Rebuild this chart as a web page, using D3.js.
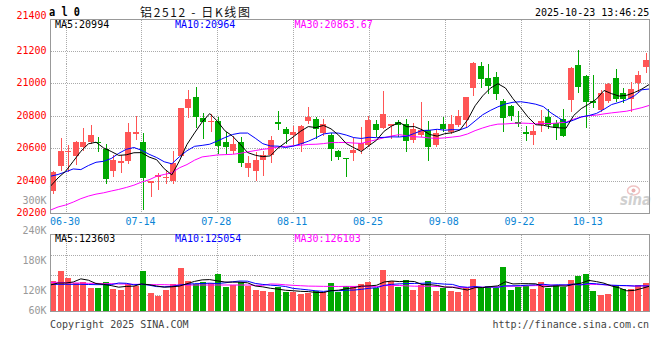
<!DOCTYPE html>
<html><head><meta charset="utf-8">
<script src="https://cdn.jsdelivr.net/npm/d3@7/dist/d3.min.js"></script>
<style>body{margin:0;background:#fff}svg{display:block}</style>
</head><body>
<svg id="c" width="660" height="360"></svg>
<script>
// ---------- DATA ----------
const dates = ["06-26","06-27","06-30","07-01","07-02","07-03","07-04","07-07","07-08","07-09","07-10","07-11","07-14","07-15","07-16","07-17","07-18","07-21","07-22","07-23","07-24","07-25","07-28","07-29","07-30","07-31","08-01","08-04","08-05","08-06","08-07","08-08","08-11","08-12","08-13","08-14","08-15","08-18","08-19","08-20","08-21","08-22","08-25","08-26","08-27","08-28","08-29","09-01","09-02","09-03","09-04","09-05","09-08","09-09","09-10","09-11","09-12","09-15","09-16","09-17","09-18","09-19","09-22","09-23","09-24","09-25","09-26","09-29","09-30","10-09","10-10","10-13","10-14","10-15","10-16","10-17","10-20","10-21","10-22","10-23"];
const open  = [20337,20490,20576,20551,20606,20637,20641,20598,20459,20508,20520,20690,20641,20384,20424,20420,20398,20555,20851,20916,20784,20763,20769,20641,20582,20641,20477,20459,20531,20557,20763,20720,20684,20629,20771,20782,20694,20680,20584,20543,20569,20588,20620,20751,20727,20735,20763,20751,20651,20680,20714,20618,20751,20698,20745,20776,20973,21106,21033,21039,20892,20861,20759,20702,20684,20743,20794,20755,20780,20898,21112,21045,20890,20833,20894,21033,20941,20902,21000,21102];
const high  = [20459,20665,20620,20645,20724,20745,20669,20627,20561,20561,20755,20798,20694,20398,20445,20459,20582,20851,20959,20980,20820,20812,20792,20702,20673,20671,20551,20580,20582,20678,20831,20731,20739,20745,20855,20792,20782,20694,20592,20543,20661,20731,20800,20776,20955,20751,20776,20782,20755,20886,20769,20718,20792,20804,20833,20916,21131,21131,21118,21067,20902,20869,20831,20739,20743,20837,20841,20776,20843,21102,21208,21053,21053,20959,21004,21090,20971,21008,21078,21188];
const low   = [20322,20469,20459,20506,20592,20633,20582,20384,20428,20453,20512,20659,20224,20306,20347,20388,20384,20551,20792,20731,20661,20704,20571,20571,20571,20494,20428,20408,20433,20514,20720,20633,20627,20582,20755,20663,20684,20527,20537,20428,20527,20571,20616,20678,20722,20663,20673,20582,20637,20673,20527,20612,20704,20694,20739,20739,20929,20980,20939,20902,20704,20776,20735,20653,20624,20704,20724,20659,20678,20827,20945,20729,20857,20827,20888,20894,20888,20827,20949,21069];
const close = [20453,20586,20586,20641,20641,20684,20635,20412,20531,20520,20702,20698,20416,20396,20437,20424,20510,20845,20902,20792,20759,20771,20612,20606,20629,20510,20512,20531,20561,20653,20747,20686,20702,20739,20794,20718,20751,20596,20547,20535,20590,20633,20776,20714,20812,20751,20743,20643,20720,20714,20606,20692,20718,20751,20796,20916,21127,21024,20984,20937,20784,20796,20751,20686,20708,20769,20743,20724,20678,21096,20980,20882,20878,20943,20998,20906,20906,20963,21051,21143];
const volume = [138000,158000,144700,134000,136700,124700,124700,136000,122000,120700,132700,127300,158000,114000,108000,120700,131300,164700,138000,131300,136000,134000,152000,126700,130000,135300,128000,120000,118000,116000,126700,116700,115300,112000,113300,118000,116000,134000,116700,128000,128000,132000,136000,123300,160700,138000,126000,140000,120000,130000,138000,118000,123300,118000,116000,124700,142000,123300,128000,123300,166000,120000,126000,128000,122000,136000,124700,130000,126000,140000,148000,152000,118000,110000,112000,130000,122000,122000,130000,134000];
// moving-average values before a full window is available
const ma5Head  = [20367,20418,20459,20520];
const ma10Head = [20428,20439,20455,20473,20469,20494,20514,20520,20537];
const ma30Head = [20220,20239,20251,20269,20290,20306,20318,20326,20337,20347,20359,20373,20392,20406,20428,20439,20449,20480,20500,20527,20547,20553,20559,20561,20563,20569,20578,20586,20594];
const vma5Head  = [130000,134000,134000,136000];
const vma10Head = [131300,131300,131300,131300,131300,131000,130700,130700,130700];
const vma30Head = [135300,135300,134700,134000,134000,133300,133300,132700,132700,132000,132000,131300,131300,130700,130700,130700,130000,130000,130000,130000,130000,130000,130000,130000,130000,130000,130000,129300,129300];
const dateTickLabels = ["06-30","07-14","07-28","08-11","08-25","09-08","09-22","10-13"];
const priceTicks = [21400,21200,21000,20800,20600,20400,20200];
const volTicks = [300000,240000,180000,120000,60000];
const volTickLabels = ["300K","240K","180K","120K","60K"];
const priceLegend = ["MA5:20994","MA10:20964","MA30:20863.67"];
const volLegend = ["MA5:123603","MA10:125054","MA30:126103"];
const titleText = "铝2512 - 日K线图";
const stampText = "2025-10-23 13:46:25";

// ---------- HELPERS ----------
function movingAvg(vals, n, head){
  return vals.map((v,i)=> i < n-1 ? head[i] : d3.mean(vals.slice(i-n+1, i+1)));
}
const RED = "#ff5555", GREEN = "#00a800";
const MONO = "'DejaVu Sans Mono', monospace";

const svg = d3.select("#c");
svg.append("rect").attr("width",660).attr("height",360).attr("fill","#fff");

const N = dates.length;
const xC = d3.scaleLinear().domain([0, N-1]).range([53, 645.7]);   // candles / bars
const xL = d3.scaleLinear().domain([0, N-1]).range([50.5, 649.5]); // lines / grid
const yP = d3.scaleLinear().domain([20200, 21400]).range([213.3, 18.3]);
const yV = d3.scaleLinear().domain([60000, 300000]).range([320, 200]);

const P = {l:50.5, r:649.5, t:19.5, b:213.5};
const V = {l:50.5, r:649.5, t:234.5, b:311.5};

const gridC = "#aaaaaa";
const tickIdx = dateTickLabels.map(d => dates.indexOf(d));

// grids
const g = svg.append("g").attr("shape-rendering","crispEdges");
priceTicks.filter(v => v > 20200 && v < 21400).forEach(v=>{
  const y = Math.round(yP(v)) + 0.5;
  g.append("line").attr("x1",P.l).attr("x2",P.r).attr("y1",y).attr("y2",y)
    .attr("stroke",gridC).attr("stroke-dasharray","1,1");
});
[255.5, 275.5, 295.5].forEach(y=>{
  g.append("line").attr("x1",V.l).attr("x2",V.r).attr("y1",y).attr("y2",y)
    .attr("stroke",gridC).attr("stroke-dasharray","1,1");
});
tickIdx.forEach(i=>{
  const x = Math.round(xL(i)) + 0.5;
  g.append("line").attr("x1",x).attr("x2",x).attr("y1",P.t).attr("y2",P.b)
    .attr("stroke",gridC).attr("stroke-dasharray","1,1");
  g.append("line").attr("x1",x).attr("x2",x).attr("y1",V.t).attr("y2",V.b)
    .attr("stroke",gridC).attr("stroke-dasharray","1,1");
});

// watermark
const wm = svg.append("g");
wm.append("ellipse").attr("cx",633.5).attr("cy",190.5).attr("rx",6).attr("ry",4.5)
  .attr("fill","none").attr("stroke","#f0c4c4").attr("stroke-width",1.5);
wm.append("circle").attr("cx",633.5).attr("cy",190.5).attr("r",2).attr("fill","#eab0b0");
wm.append("text").attr("x",620).attr("y",205).attr("font-family","'DejaVu Sans', sans-serif")
  .attr("font-size",15).attr("font-style","italic").attr("font-weight","bold")
  .attr("fill","#d0d0d0").attr("textLength",31).attr("lengthAdjust","spacingAndGlyphs").text("sina");

// candles
const cg = svg.append("g").attr("shape-rendering","crispEdges");
d3.range(N).forEach(i=>{
  const up = close[i] >= open[i];
  const col = up ? RED : GREEN;
  const xc = Math.round(xC(i));
  cg.append("line").attr("x1",xc+0.5).attr("x2",xc+0.5)
    .attr("y1",Math.round(yP(high[i]))).attr("y2",Math.round(yP(low[i]))+1)
    .attr("stroke",col);
  const t = Math.round(yP(Math.max(open[i],close[i])));
  const b = Math.round(yP(Math.min(open[i],close[i])));
  cg.append("rect").attr("x",xc-3).attr("width",6).attr("y",t).attr("height",Math.max(1,b-t))
    .attr("fill",col);
  const vy = Math.round(yV(volume[i]));
  cg.append("rect").attr("x",xc-3).attr("width",6).attr("y",vy).attr("height",311-vy)
    .attr("fill",col);
});

// moving-average lines
const lineP = d3.line().x((d,i)=>xL(i)).y(d=>yP(d));
const lineV = d3.line().x((d,i)=>xL(i)).y(d=>yV(d));
const maDefs = [
  {n:5, head:ma5Head, vhead:vma5Head, col:"#000000"},
  {n:10, head:ma10Head, vhead:vma10Head, col:"#0000ff"},
  {n:30, head:ma30Head, vhead:vma30Head, col:"#ff00ff"}
];
const lg = svg.append("g").attr("fill","none").attr("stroke-width",1);
[...maDefs].reverse().forEach(m=>{
  lg.append("path").attr("d",lineP(movingAvg(close,m.n,m.head))).attr("stroke",m.col);
  lg.append("path").attr("d",lineV(movingAvg(volume,m.n,m.vhead))).attr("stroke",m.col);
});

// borders
const bg = svg.append("g").attr("shape-rendering","crispEdges").attr("fill","none").attr("stroke","#999");
bg.append("rect").attr("x",P.l).attr("y",P.t).attr("width",P.r-P.l).attr("height",P.b-P.t);
bg.append("rect").attr("x",V.l).attr("y",V.t).attr("width",V.r-V.l).attr("height",V.b-V.t);

// axis labels
const tg = svg.append("g").attr("font-family",MONO).attr("font-size",10);
priceTicks.forEach(v=>{
  let y = yP(v) - 0.5; if (y < 20) y = 15;
  tg.append("text").attr("x",46.5).attr("y",y).attr("text-anchor","end")
    .attr("dominant-baseline","central").attr("fill","#ff0000").text(v);
});
volTicks.forEach((v,k)=>{
  const y = Math.min(yV(v) + 0.5, 310.5);
  tg.append("text").attr("x",46.5).attr("y",y).attr("text-anchor","end")
    .attr("dominant-baseline","central").attr("fill","#999").text(volTickLabels[k]);
});
tickIdx.forEach((i,k)=>{
  tg.append("text").attr("x",Math.max(xL(i)-1, 65)).attr("y",221.5).attr("text-anchor","middle")
    .attr("dominant-baseline","central").attr("fill","#0a85d5").text(dateTickLabels[k]);
});

// legends
const legX = [55, 175, 294.5];
maDefs.forEach((m,k)=>{
  tg.append("text").attr("x",legX[k]).attr("y",24.5).attr("dominant-baseline","central")
    .attr("fill",m.col).text(priceLegend[k]);
  tg.append("text").attr("x",legX[k]).attr("y",238.5).attr("dominant-baseline","central")
    .attr("fill",m.col).text(volLegend[k]);
});

// header
svg.append("text").attr("x",49).attr("y",12).attr("dominant-baseline","central")
  .attr("font-family",MONO).attr("font-size",12).attr("font-weight","bold")
  .attr("textLength",31).attr("lengthAdjust","spacingAndGlyphs").text("a l 0");
svg.append("text").attr("x",140).attr("y",11).attr("dominant-baseline","central")
  .attr("font-family","'Noto Sans CJK SC', sans-serif").attr("font-size",12)
  .attr("textLength",110).attr("lengthAdjust","spacing").attr("fill","#111").text(titleText);
svg.append("text").attr("x",535).attr("y",12).attr("dominant-baseline","central")
  .attr("font-family",MONO).attr("font-size",10).text(stampText);

// footer
tg.append("text").attr("x",50).attr("y",324).attr("dominant-baseline","central")
  .attr("fill","#444").text("Copyright 2025 SINA.COM");
tg.append("text").attr("x",649).attr("y",324).attr("dominant-baseline","central")
  .attr("text-anchor","end").attr("fill","#444").text("http://finance.sina.com.cn");
</script>
</body></html>
